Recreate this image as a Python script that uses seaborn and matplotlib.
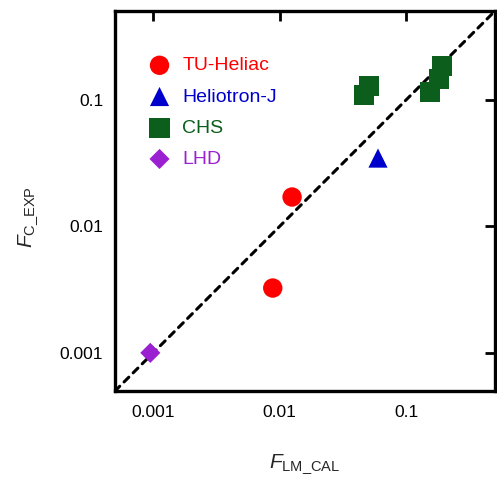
import matplotlib
matplotlib.use("Agg")
import matplotlib.pyplot as plt
import seaborn as sns
import pandas as pd
import numpy as np

# ---- data ----
tu_x = [0.0125, 0.0088]
tu_y = [0.0170, 0.00325]
hj_x = [0.0596]
hj_y = [0.0345]
chs_x = [0.0506, 0.0462, 0.191, 0.181, 0.1535]
chs_y = [0.128, 0.1086, 0.184, 0.145, 0.115]
lhd_x = [0.00095]
lhd_y = [0.0010]

devices = ["TU-Heliac", "Heliotron-J", "CHS", "LHD"]
colors = ["#FF0000", "#0000CC", "#0B5E1C", "#9A20D2"]
markers = ["o", "^", "s", "D"]
sizes = [195, 190, 215, 105]

xticks = [0.001, 0.01, 0.1]
tick_labels = ["0.001", "0.01", "0.1"]
lims = [0.0005, 0.5]

frames = []
for name, xs, ys in [("TU-Heliac", tu_x, tu_y), ("Heliotron-J", hj_x, hj_y),
                     ("CHS", chs_x, chs_y), ("LHD", lhd_x, lhd_y)]:
    frames.append(pd.DataFrame({"x": xs, "y": ys, "device": name}))
df = pd.concat(frames, ignore_index=True)

sns.set_style("white")
plt.rcParams["font.family"] = ["Liberation Sans", "DejaVu Sans"]
plt.rcParams["mathtext.fontset"] = "custom"
plt.rcParams["mathtext.rm"] = "Liberation Sans"
plt.rcParams["mathtext.it"] = "Liberation Sans:italic"

fig = plt.figure(figsize=(4.97, 4.80), dpi=100)
ax = fig.add_axes([115 / 497, 1 - 391 / 480, 380 / 497, 380 / 480])

# y = x reference line
ax.plot(lims, lims, color="black", linestyle=(0, (2.2, 2.0)), linewidth=2.2,
        dash_capstyle="round", zorder=1)

for name, c, m, s in zip(devices, colors, markers, sizes):
    sub = df[df["device"] == name]
    sns.scatterplot(data=sub, x="x", y="y", ax=ax, color=c, marker=m, s=s,
                    edgecolor="none", linewidth=0, label=name, zorder=3)

ax.set_xscale("log")
ax.set_yscale("log")
ax.set_xlim(lims)
ax.set_ylim(lims)
ax.set_xticks(xticks)
ax.set_xticklabels(tick_labels)
ax.set_yticks(xticks)
ax.set_yticklabels(tick_labels)
ax.minorticks_off()
ax.tick_params(which="major", direction="in", length=7, width=2,
               top=True, right=True, labelsize=12.5, colors="black")
ax.tick_params(axis="x", pad=10)
ax.tick_params(axis="y", pad=8.5)
for sp in ax.spines.values():
    sp.set_linewidth(2.4)
    sp.set_color("black")

ax.set_xlabel(r"$\mathit{F}_{\mathrm{LM\_CAL}}$", fontsize=15)
ax.set_ylabel(r"$\mathit{F}_{\mathrm{C\_EXP}}$", fontsize=15)
ax.xaxis.set_label_coords(0.5, -0.16)
ax.yaxis.set_label_coords(-0.197, 0.458)

leg = ax.legend(loc="upper left", bbox_to_anchor=(0.066, 0.9), frameon=False,
                fontsize=14, handletextpad=0.58, labelspacing=0.7,
                borderaxespad=0, handlelength=1.2, labelcolor=colors)

fig.savefig("out.png", dpi=100)
